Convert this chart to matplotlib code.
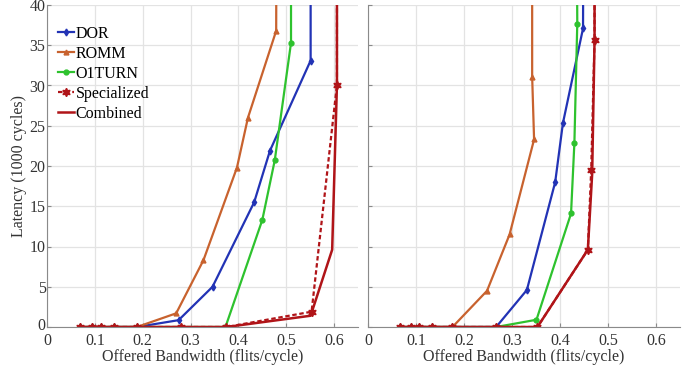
import matplotlib
matplotlib.use('Agg')
import matplotlib.pyplot as plt
import matplotlib.transforms as mtransforms

plt.rcParams['font.family'] = ['Liberation Serif', 'DejaVu Serif']

# left panel: (bandwidth, latency in 1000 cycles)
left_dor_x = [0.069, 0.094, 0.112, 0.140, 0.188, 0.275, 0.346, 0.433, 0.466, 0.551, 0.551]
left_dor_y = [0, 0, 0, 0, 0, 0.85, 5.0, 15.5, 21.9, 33.1, 60]
left_romm_x = [0.069, 0.094, 0.112, 0.140, 0.188, 0.270, 0.327, 0.397, 0.420, 0.479, 0.480]
left_romm_y = [0, 0, 0, 0, 0, 1.7, 8.3, 19.8, 26.0, 36.8, 60]
left_o1_x = [0.069, 0.094, 0.112, 0.140, 0.188, 0.280, 0.373, 0.450, 0.476, 0.510, 0.510]
left_o1_y = [0, 0, 0, 0, 0, 0, 0, 13.3, 20.7, 35.3, 60]
left_spec_x = [0.069, 0.094, 0.112, 0.140, 0.188, 0.280, 0.375, 0.553, 0.606, 0.606]
left_spec_y = [0, 0, 0, 0, 0, 0, 0, 1.9, 30.1, 60]
left_comb_x = [0.069, 0.094, 0.112, 0.140, 0.188, 0.280, 0.375, 0.551, 0.596, 0.606, 0.606]
left_comb_y = [0, 0, 0, 0, 0, 0, 0, 1.4, 9.6, 30.1, 60]

# right panel
right_dor_x = [0.067, 0.089, 0.107, 0.133, 0.176, 0.267, 0.331, 0.390, 0.406, 0.448, 0.449]
right_dor_y = [0, 0, 0, 0, 0, 0, 4.6, 18.0, 25.3, 37.1, 60]
right_romm_x = [0.067, 0.089, 0.107, 0.133, 0.176, 0.248, 0.295, 0.346, 0.342, 0.342]
right_romm_y = [0, 0, 0, 0, 0, 4.5, 11.5, 23.3, 31.1, 60]
right_o1_x = [0.067, 0.089, 0.107, 0.133, 0.176, 0.267, 0.351, 0.423, 0.430, 0.436, 0.434]
right_o1_y = [0, 0, 0, 0, 0, 0, 0.9, 14.1, 22.9, 37.7, 60]
right_spec_x = [0.067, 0.089, 0.107, 0.133, 0.176, 0.267, 0.353, 0.458, 0.465, 0.472, 0.472]
right_spec_y = [0, 0, 0, 0, 0, 0, 0, 9.6, 19.5, 35.7, 60]
right_comb_x = [0.067, 0.089, 0.107, 0.133, 0.176, 0.267, 0.353, 0.458, 0.467, 0.472, 0.472]
right_comb_y = [0, 0, 0, 0, 0, 0, 0, 9.6, 19.0, 35.7, 60]

labels = ['DOR', 'ROMM', 'O1TURN', 'Specialized', 'Combined']
x_ticks = [0, 0.1, 0.2, 0.3, 0.4, 0.5, 0.6]
y_ticks = [0, 5, 10, 15, 20, 25, 30, 35, 40]

c_dor = '#2233b5'
c_romm = '#c8622e'
c_o1 = '#2ec22e'
c_red = '#b01418'


def draw(ax, dor, romm, o1, spec, comb):
    ax.plot(*dor, color=c_dor, lw=1.6, marker='d', ms=3.5, label=labels[0])
    ax.plot(*romm, color=c_romm, lw=1.6, marker='^', ms=3.5, label=labels[1])
    ax.plot(*o1, color=c_o1, lw=1.6, marker='o', ms=3.5, label=labels[2])
    ax.plot(*spec, color=c_red, lw=1.6, ls=(0, (2, 1.2)), marker=(6, 1, 0), ms=6,
            label=labels[3])
    ax.plot(*comb, color=c_red, lw=1.8, label=labels[4])
    ax.set_xlim(0, 0.65)
    ax.set_ylim(0, 40)
    ax.set_xticks(x_ticks)
    ax.set_xticklabels(['0', '0.1', '0.2', '0.3', '0.4', '0.5', '0.6'])
    ax.set_yticks(y_ticks)
    ax.grid(True, color='#e3e3e3', lw=0.9)
    ax.set_axisbelow(True)
    for s in ['top', 'right']:
        ax.spines[s].set_visible(False)
    for s in ['left', 'bottom']:
        ax.spines[s].set_color('#8a8a8a')
    ax.tick_params(direction='in', length=3, colors='#8a8a8a', labelcolor='#333333',
                   labelsize=11.5, pad=1)
    ax.tick_params(axis='x', pad=4)
    ax.set_xlabel('Offered Bandwidth (flits/cycle)', fontsize=11.5, color='#333333',
                  labelpad=0)


fig = plt.figure(figsize=(6.99, 3.68), dpi=100)
ax1 = fig.add_axes([47 / 699, 41 / 368, 311 / 699, 322 / 368])
ax2 = fig.add_axes([368 / 699, 41 / 368, 312 / 699, 322 / 368])

draw(ax1, (left_dor_x, left_dor_y), (left_romm_x, left_romm_y), (left_o1_x, left_o1_y),
     (left_spec_x, left_spec_y), (left_comb_x, left_comb_y))
draw(ax2, (right_dor_x, right_dor_y), (right_romm_x, right_romm_y),
     (right_o1_x, right_o1_y), (right_spec_x, right_spec_y),
     (right_comb_x, right_comb_y))

ax1.set_ylabel('Latency (1000 cycles)', fontsize=11.5, color='#333333', labelpad=2)
ax2.set_yticklabels([])

# nudge the y "0" label up a little so it does not sit on the x "0"
zero_lbl = ax1.get_yticklabels()[0]
zero_lbl.set_transform(zero_lbl.get_transform()
                       + mtransforms.ScaledTranslation(0, 3 / 100, fig.dpi_scale_trans))

ax1.legend(loc='upper left', frameon=False, fontsize=11.5, handlelength=1.0,
           handletextpad=0.1, borderaxespad=0.3, labelspacing=0.25,
           bbox_to_anchor=(0.0, 0.97))

fig.savefig('out.png', dpi=100)
